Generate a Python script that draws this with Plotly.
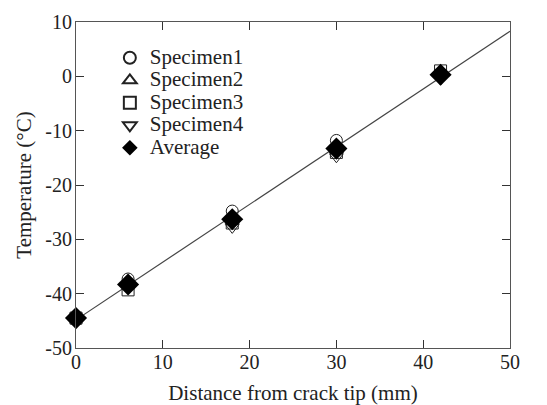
import numpy as np
import plotly.graph_objects as go

distance = [0, 6, 18, 30, 42]
specimen1 = [-44.5, -37.3, -24.8, -11.8, 0.3]
specimen2 = [-44.5, -38.0, -26.5, -13.5, 0.5]
specimen3 = [-44.5, -39.3, -27.0, -14.0, 1.0]
specimen4 = [-44.5, -38.5, -27.8, -14.8, -0.5]
average = [-44.5, -38.3, -26.3, -13.3, 0.3]
x_ticks = [0, 10, 20, 30, 40, 50]
y_ticks = [-50, -40, -30, -20, -10, 0, 10]

slope, intercept = np.polyfit(distance, average, 1)
fit_x = np.array([0, 50])
fit_y = slope * fit_x + intercept

font = "Liberation Serif, Times New Roman, serif"


def big(s):
    return '<span style="font-size:21px">' + s + '</span>'


fig = go.Figure()
fig.add_trace(go.Scatter(x=fit_x, y=fit_y, mode="lines",
                         line=dict(color="#444", width=1.2), showlegend=False))
styles = [
    ("Specimen1", specimen1, "circle-open", 12),
    ("Specimen2", specimen2, "triangle-up-open", 12),
    ("Specimen3", specimen3, "square-open", 12),
    ("Specimen4", specimen4, "triangle-down-open", 12),
]
for name, ys, sym, sz in styles:
    fig.add_trace(go.Scatter(x=distance, y=ys, mode="markers", name=big(name), cliponaxis=False,
                             marker=dict(symbol=sym, size=sz, color="#222",
                                         line=dict(width=1, color="#222"))))
fig.add_trace(go.Scatter(x=distance, y=average, mode="markers", name=big("Average"), cliponaxis=False,
                         marker=dict(symbol="diamond", size=17, color="black")))

axis_common = dict(showline=True, linecolor="#555", linewidth=1.2, mirror="ticks",
                   ticks="inside", ticklen=8, tickcolor="#333", tickwidth=1.2,
                   showgrid=False, zeroline=False, automargin=False,
                   tickfont=dict(family=font, size=20, color="#222"))
fig.update_xaxes(range=[0, 50], tickvals=x_ticks, ticktext=[str(v) for v in x_ticks],
                 ticklabelstandoff=-4,
                 title=dict(text="Distance from crack tip (mm)",
                            font=dict(family=font, size=21, color="#222"), standoff=14),
                 **axis_common)
fig.update_yaxes(range=[-50, 10], tickvals=y_ticks, ticktext=[str(v) for v in y_ticks],
                 ticklabelstandoff=-1,
                 title=dict(text="Temperature (°C)",
                            font=dict(family=font, size=21, color="#222"), standoff=7),
                 **axis_common)
fig.update_layout(width=539, height=397, margin=dict(l=68, r=37, t=14, b=57),
                  plot_bgcolor="white", paper_bgcolor="white",
                  legend=dict(x=0.078, y=0.94, xanchor="left", yanchor="top",
                              bgcolor="rgba(0,0,0,0)", tracegroupgap=0,
                              font=dict(family=font, size=15, color="#222"),
                              itemsizing="constant"))
fig.write_html("out.html")
